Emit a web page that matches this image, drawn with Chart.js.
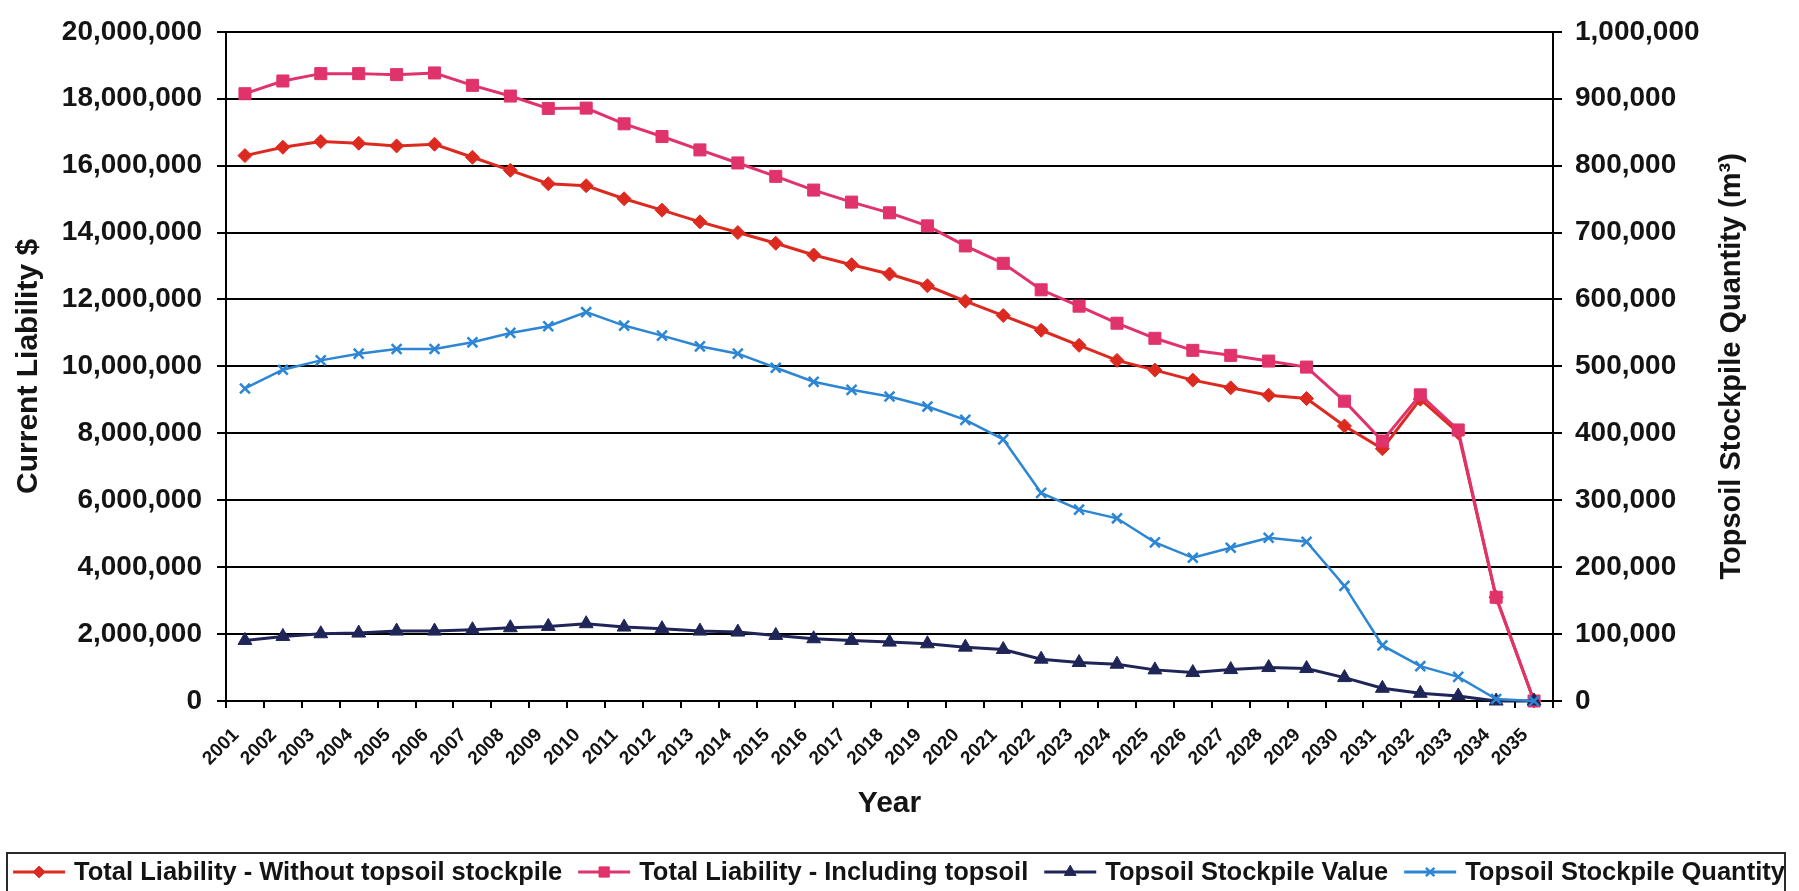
<!DOCTYPE html>
<html>
<head>
<meta charset="utf-8">
<script src="https://cdn.jsdelivr.net/npm/chart.js@4.4.1/dist/chart.umd.min.js"></script>
<style>
  html, body { margin: 0; padding: 0; background: #ffffff; }
  canvas { display: block; }
</style>
</head>
<body>
<canvas id="liabilityChart" width="1799" height="891"></canvas>
<script>
// Years on the category axis
const years = ['2001','2002','2003','2004','2005','2006','2007','2008','2009','2010',
               '2011','2012','2013','2014','2015','2016','2017','2018','2019','2020',
               '2021','2022','2023','2024','2025','2026','2027','2028','2029','2030',
               '2031','2032','2033','2034','2035'];

// Current liability in $ (left axis)
const liabilityWithoutTopsoil = [
  16300000, 16550000, 16720000, 16670000, 16590000, 16640000, 16250000, 15860000, 15460000, 15400000,
  15010000, 14670000, 14320000, 14000000, 13680000, 13330000, 13040000, 12760000, 12410000, 11950000,
  11520000, 11080000, 10630000, 10180000,  9890000,  9590000,  9360000,  9140000,  9040000,  8220000,
   7540000,  9020000,  8020000,  3100000,        0];

const liabilityIncludingTopsoil = [
  18150000, 18530000, 18750000, 18750000, 18720000, 18770000, 18400000, 18080000, 17710000, 17720000,
  17250000, 16870000, 16470000, 16080000, 15680000, 15270000, 14910000, 14590000, 14200000, 13600000,
  13080000, 12290000, 11800000, 11290000, 10840000, 10480000, 10330000, 10160000,  9980000,  8960000,
   7770000,  9150000,  8100000,  3100000,        0];

const stockpileValue = [
  1810000, 1930000, 2010000, 2030000, 2090000, 2090000, 2130000, 2190000, 2230000, 2310000,
  2210000, 2160000, 2090000, 2060000, 1960000, 1860000, 1810000, 1760000, 1710000, 1610000,
  1540000, 1250000, 1150000, 1100000,  930000,  850000,  940000, 1000000,  970000,  700000,
   380000,  230000,  150000,       0,       0];

// Topsoil stockpile quantity in m³ (right axis)
const stockpileQuantity = [
  467000, 495000, 509000, 519000, 526000, 526000, 536000, 550000, 560000, 581000,
  561000, 546000, 530000, 519000, 498000, 477000, 465000, 455000, 440000, 420000,
  391000, 311000, 286000, 273000, 237000, 214000, 229000, 244000, 238000, 172000,
   83000,  52000,  36000,   3000,      0];

// Axis ranges and tick spacing
const leftAxisMax = 20000000;
const leftAxisStep = 2000000;
const rightAxisMax = 1000000;
const rightAxisStep = 100000;

const FAMILY = "'Liberation Sans', Arial, Helvetica, sans-serif";
const INK = '#141414';
const RED = '#dc2a20';
const PINK = '#e0336b';
const NAVY = '#1f2557';
const BLUE = '#2d86d4';

const fmt = v => Number(v).toLocaleString('en-US');

// Right-hand axis title, reading bottom-to-top
const rightTitlePlugin = {
  id: 'rightTitle',
  afterDraw(chart) {
    const { ctx, chartArea } = chart;
    ctx.save();
    ctx.translate(1732, (chartArea.top + chartArea.bottom) / 2);
    ctx.rotate(-Math.PI / 2);
    ctx.font = `bold 29px ${FAMILY}`;
    ctx.fillStyle = INK;
    ctx.textAlign = 'center';
    ctx.textBaseline = 'middle';
    ctx.fillText('Topsoil Stockpile Quantity (m³)', 0, 0);
    ctx.restore();
  }
};

// Boxed series key along the bottom: line with marker, then label
const seriesKeyPlugin = {
  id: 'seriesKey',
  afterDraw(chart) {
    const { ctx } = chart;
    const sets = chart.data.datasets;
    const lineLen = 52, textGap = 9, itemGap = 16, cy = 872;
    ctx.save();
    ctx.font = `bold 25.5px ${FAMILY}`;
    const widths = sets.map(d => ctx.measureText(d.label).width);
    const total = widths.reduce((a, w) => a + w + lineLen + textGap, 0) + itemGap * (sets.length - 1);
    let x = 899 - total / 2;

    ctx.strokeStyle = '#2a2a2a';
    ctx.lineWidth = 2;
    ctx.strokeRect(7, 853, 1778, 80);

    sets.forEach((d, i) => {
      ctx.strokeStyle = d.borderColor;
      ctx.lineWidth = 3;
      ctx.beginPath();
      ctx.moveTo(x, cy);
      ctx.lineTo(x + lineLen, cy);
      ctx.stroke();
      ctx.fillStyle = d.pointBackgroundColor;
      ctx.strokeStyle = d.pointBorderColor;
      ctx.lineWidth = d.pointBorderWidth;
      Chart.helpers.drawPoint(ctx, {
        pointStyle: d.pointStyle, radius: d.pointRadius * 0.85,
        rotation: 0, borderWidth: d.pointBorderWidth
      }, x + lineLen / 2, cy);
      ctx.fillStyle = INK;
      ctx.textAlign = 'left';
      ctx.textBaseline = 'middle';
      ctx.fillText(d.label, x + lineLen + textGap, cy + 1);
      x += lineLen + textGap + widths[i] + itemGap;
    });
    ctx.restore();
  }
};

function series(label, data, axis, color, style, radius, order, width) {
  return {
    label, data, yAxisID: axis,
    borderColor: color, backgroundColor: color,
    pointBackgroundColor: color, pointBorderColor: color,
    pointStyle: style, pointRadius: radius, pointBorderWidth: style === 'crossRot' ? 2.5 : 1,
    pointHoverRadius: radius,
    borderWidth: width, tension: 0, fill: false, clip: false, order
  };
}

const tickFont = { family: FAMILY, size: 28, weight: 'bold' };
const titleFont = { family: FAMILY, size: 30, weight: 'bold' };

new Chart(document.getElementById('liabilityChart'), {
  type: 'line',
  data: {
    labels: years,
    datasets: [
      series('Total Liability - Without topsoil stockpile', liabilityWithoutTopsoil, 'yL', RED, 'rectRot', 7, 4, 3),
      series('Total Liability - Including topsoil', liabilityIncludingTopsoil, 'yL', PINK, 'rect', 8.5, 3, 3),
      series('Topsoil Stockpile Value', stockpileValue, 'yL', NAVY, 'triangle', 8, 2, 3),
      series('Topsoil Stockpile Quantity', stockpileQuantity, 'yR', BLUE, 'crossRot', 7, 1, 2.5)
    ]
  },
  options: {
    responsive: false,
    animation: false,
    devicePixelRatio: 1,
    layout: { padding: { top: 27, bottom: 69, left: 0, right: 0 } },
    plugins: { legend: { display: false }, tooltip: { enabled: false } },
    scales: {
      x: {
        type: 'category',
        offset: true,
        grid: { offset: true, drawOnChartArea: false, drawTicks: true, tickLength: 7, color: '#000', lineWidth: 2 },
        border: { display: true, color: '#000', width: 2 },
        ticks: {
          autoSkip: false, minRotation: 45, maxRotation: 45, labelOffset: -9,
          font: { family: FAMILY, size: 19, weight: 'bold' }, color: INK, padding: 16
        },
        title: { display: true, text: 'Year', font: titleFont, color: INK, padding: 0 },
        afterFit(s) { s.height = 121; }
      },
      yL: {
        position: 'left',
        min: 0, max: leftAxisMax,
        ticks: { stepSize: leftAxisStep, callback: fmt, font: tickFont, color: INK, padding: 15 },
        grid: { color: '#000', lineWidth: 2, tickLength: 9, drawTicks: true },
        border: { display: true, color: '#000', width: 2 },
        title: { display: true, text: 'Current Liability $', font: titleFont, color: INK, padding: { top: 11, bottom: 0 } },
        afterFit(s) { s.width = 226; }
      },
      yR: {
        position: 'right',
        min: 0, max: rightAxisMax,
        ticks: { stepSize: rightAxisStep, callback: fmt, font: tickFont, color: INK, padding: 13 },
        grid: { drawOnChartArea: false, color: '#000', lineWidth: 2, tickLength: 9, drawTicks: true },
        border: { display: true, color: '#000', width: 2 },
        afterFit(s) { s.width = 246; }
      }
    }
  },
  plugins: [rightTitlePlugin, seriesKeyPlugin]
});
</script>
</body>
</html>
